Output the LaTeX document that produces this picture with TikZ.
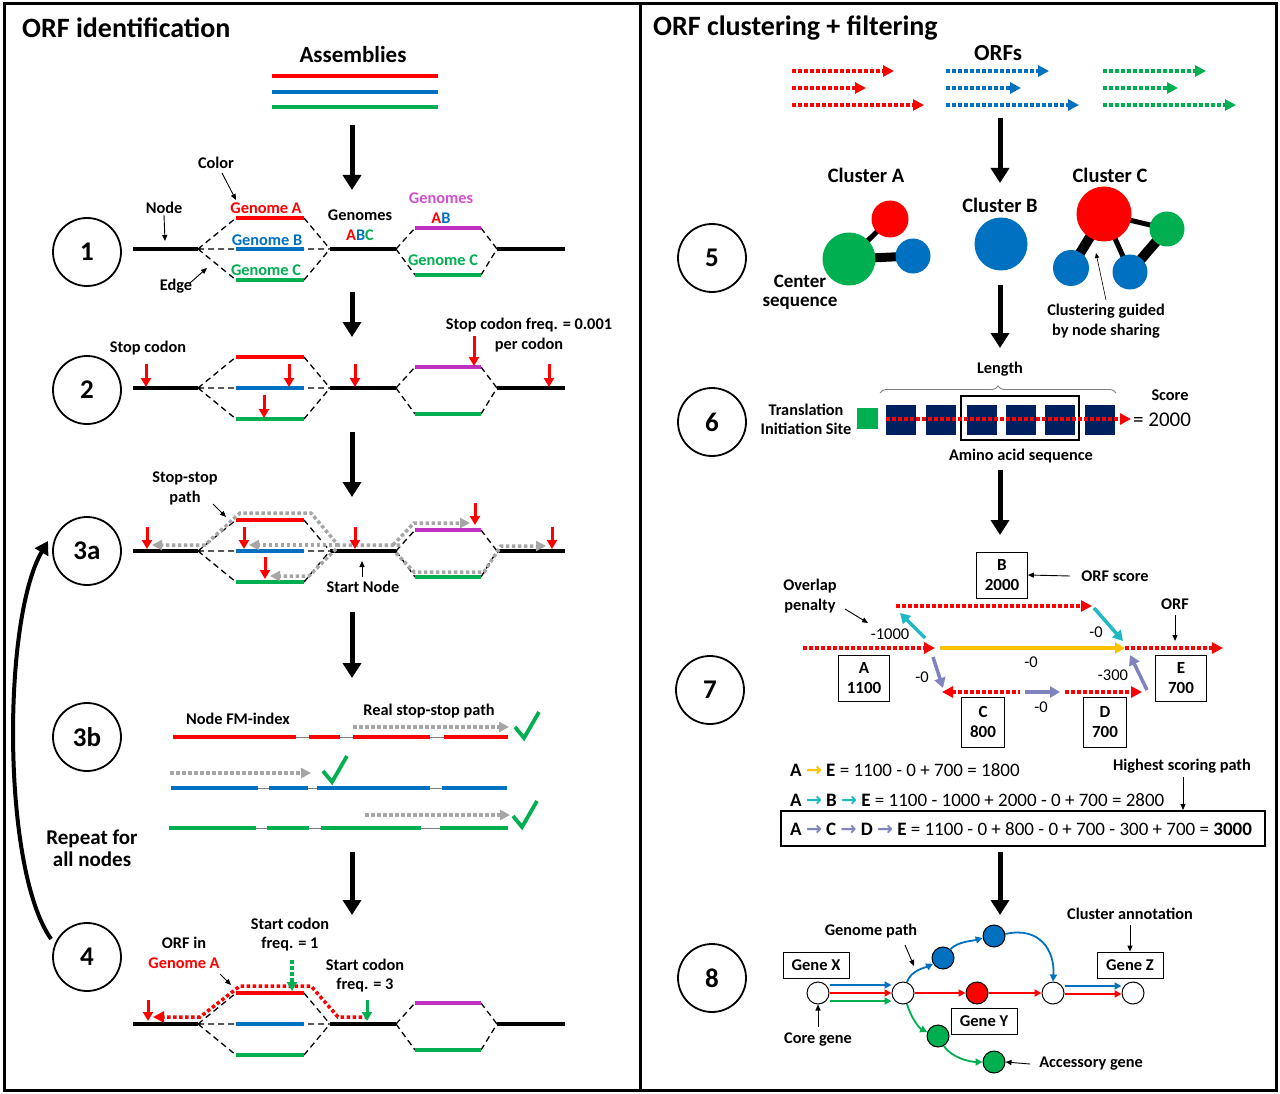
\documentclass[tikz,border=0pt]{standalone}
\usepackage{fontspec}
\setmainfont{Carlito}
\newfontfamily\dejavu{DejaVu Sans}
\usetikzlibrary{arrows.meta,calc,decorations.pathreplacing,backgrounds}
\definecolor{cred}{HTML}{FF0000}
\definecolor{cblue}{HTML}{0070C0}
\definecolor{cgreen}{HTML}{00B050}
\definecolor{cmag}{HTML}{C030C0}
\definecolor{cmagt}{HTML}{D050D0}
\definecolor{cgray}{HTML}{A6A6A6}
\definecolor{cteal}{HTML}{1FB9C4}
\definecolor{cpurp}{HTML}{7F84BE}
\definecolor{cyel}{HTML}{FFC000}
\definecolor{cnavy}{HTML}{002060}
\newcommand{\gfrag}[1]{%
 \begin{scope}[shift={(0,#1)}]
  \draw[dsh] (198,0) -- (236,-31) (198,0) -- (330,0) (198,0) -- (236,31)
     (304,-31) -- (330,0) (304,31) -- (330,0)
     (396,0) -- (415,-21) (396,0) -- (415,26) (481,-21) -- (497,0) (481,26) -- (497,0);
  \draw[seg] (133,0) -- (198,0) (330,0) -- (396,0) (497,0) -- (565,0);
  \draw[seg,cred] (236,-31) -- (304,-31);
  \draw[seg,cblue] (236,0) -- (304,0);
  \draw[seg,cgreen] (236,31) -- (304,31) (415,26) -- (481,26);
  \draw[seg,cmag] (415,-21) -- (481,-21);
 \end{scope}}
\newcommand{\redarr}[3]{\draw[rarr] (#1,#2) -- (#1,#3);}
\newcommand{\parr}[1]{\textcolor{#1}{\dejavu\bfseries →}}
\newcommand{\chk}[2]{\draw[cgreen, line width=3.8pt] (#1-12,#2) -- (#1-3,#2+11) -- (#1+12,#2-15);}
\begin{document}
\begin{tikzpicture}[x=1pt,y=-1pt,
  seg/.style={line width=3.5pt},
  dsh/.style={line width=1.3pt, dash pattern=on 6pt off 4pt},
  rarr/.style={cred, line width=3pt, -{Triangle[width=10pt,length=9pt]}},
  bigarr/.style={line width=5pt, -{Triangle[width=18pt,length=15pt]}},
  stepc/.style={circle, draw, line width=1.8pt, minimum size=68pt, font=\bfseries\fontsize{27}{29}\selectfont},
  lbl/.style={font=\bfseries\fontsize{16.3}{18}\selectfont, align=center, inner sep=1pt},
  num/.style={font=\fontsize{16.5}{18}\selectfont, inner sep=1pt},
  ann/.style={line width=0.9pt, -{Triangle[width=5pt,length=6pt]}},
  dots/.style={line width=3.5pt, dash pattern=on 3.5pt off 2.5pt},
  gdots/.style={cgray, line width=3.5pt, dash pattern=on 3.5pt off 2.5pt, -{Triangle[width=10pt,length=10pt]}},
  dtip/.style={-{Triangle[width=11pt,length=11pt]}},
  conn/.style={line width=3.5pt, -{Triangle[width=11pt,length=10pt]}},
  box/.style={draw, line width=0.8pt, font=\bfseries\fontsize{17}{20}\selectfont, align=center, minimum width=51pt, minimum height=46pt, inner sep=1pt},
  gbox/.style={draw, line width=0.8pt, font=\bfseries\fontsize{16.5}{18}\selectfont, minimum width=66pt, minimum height=26pt, inner sep=1pt},
  wc/.style={circle, draw, line width=1pt, fill=white, minimum size=22pt, inner sep=0pt},
  cc/.style={circle, inner sep=0pt},
  clab/.style={font=\bfseries\fontsize{20.5}{22}\selectfont},
  g8/.style={line width=1.8pt, -{Triangle[width=7pt,length=7pt]}}
]
\begin{scope}[on background layer]
\path[use as bounding box, fill=white] (0,0) rectangle (1280,1094);
\end{scope}
\draw[line width=3pt] (4,4) rectangle (1276,1090);
\draw[line width=3pt] (640,4) -- (640,1090);

% ================= LEFT PANEL =================
\node[anchor=west, font=\bfseries\fontsize{28}{30}\selectfont, inner sep=0] (t1) at (22,28) {ORF identification};
\node[font=\bfseries\fontsize{23}{25}\selectfont] (asm) at (353,55) {Assemblies};
\draw[seg,cred] (272,76) -- (438,76);
\draw[seg,cblue] (272,92) -- (438,92);
\draw[seg,cgreen] (272,107) -- (438,107);
\coordinate (a0s) at (352,125); \coordinate (a0e) at (352,190);
\draw[bigarr] (a0s) -- (a0e);

% ---- step 1
\node[stepc] (s1) at (87,252) {1};
\gfrag{249}
\node[lbl] (lcol) at (216,163) {Color};
\coordinate (lcolt) at (236,200);
\draw[ann] (222,173) -- (lcolt);
\node[lbl] (lnode) at (164,208) {Node};
\coordinate (lnodet) at (165,241);
\draw[ann] (lnode.south) -- (lnodet);
\node[lbl] (ledge) at (176,286) {Edge};
\coordinate (ledget) at (207,268);
\draw[ann] (190,283) -- (ledget);
\node[lbl, text=cred] (gA) at (266,208) {Genome A};
\node[lbl, text=cblue] (gB) at (267,240) {Genome B};
\node[lbl, text=cgreen] (gC) at (266,270) {Genome C};
\node[lbl] (gabc1) at (360,215) {Genomes};
\node[lbl] (gabc2) at (360,235) {\textcolor{cred}{A}\textcolor{cblue}{B}\textcolor{cgreen}{C}};
\node[lbl, text=cmagt] (gab1) at (441,198) {Genomes};
\node[lbl] (gab2) at (441,218) {\textcolor{cred}{A}\textcolor{cblue}{B}};
\node[lbl, text=cgreen] (gC2) at (443,260) {Genome C};
\draw[bigarr] (352,292) -- (352,337);

% ---- step 2
\node[stepc] (s2) at (87,390) {2};
\gfrag{388}
\node[lbl] (lstop) at (148,348) {Stop codon};
\node[lbl] (lfreq) at (529,325) {Stop codon freq. = 0.001};
\node[lbl] (lper) at (529,345) {per codon};
\redarr{146}{364}{387}
\redarr{289}{364}{387}
\redarr{264}{395}{418}
\redarr{355}{364}{387}
\redarr{474}{336}{366}
\redarr{549}{364}{387}
\draw[bigarr] (352,432) -- (352,497);

% ---- step 3a
\node[stepc] (s3a) at (87,551) {3a};
\gfrag{551}
\begin{scope}[shift={(0,551)}]
 \draw[gdots] (400,-6) -- (338,-6) -- (311,-38) -- (240,-38) -- (205,-6) -- (152,-6);
 \draw[gdots] (338,-6) -- (249,-6);
 \draw[gdots] (336,-2) -- (309,25) -- (270,25);
 \draw[gdots] (393,-6) -- (414,-28) -- (470,-28);
 \draw[gdots] (396,2) -- (414,21) -- (484,21) -- (501,-5) -- (546,-5);
\end{scope}
\redarr{147}{527}{549}
\redarr{244}{527}{549}
\redarr{265}{557}{579}
\redarr{355}{527}{549}
\redarr{475}{503}{525}
\redarr{552}{527}{549}
\node[lbl] (lss1) at (185,478) {Stop-stop};
\node[lbl] (lss2) at (185,498) {path};
\draw[ann] (213,504) -- (226,517);
\node[lbl] (lstart) at (363,587) {Start Node};
\draw[ann] (362,577) -- (362,561);
\draw[bigarr] (352,612) -- (352,678);

% ---- step 3b
\node[stepc] (s3b) at (87,737) {3b};
\node[lbl] (lfm) at (238,719) {Node FM-index};
\node[lbl] (lreal) at (429,711) {Real stop-stop path};
\draw[line width=1pt, gray] (173,737) -- (508,737) (171,788) -- (507,788) (169,828) -- (508,828);
\draw[seg,cred] (173,737) -- (296,737) (309,737) -- (340,737) (353,737) -- (430,737) (444,737) -- (508,737);
\draw[seg,cblue] (171,788) -- (258,788) (269,788) -- (308,788) (317,788) -- (430,788) (442,788) -- (507,788);
\draw[seg,cgreen] (169,828) -- (256,828) (267,828) -- (309,828) (321,828) -- (421,828) (440,828) -- (508,828);
\draw[gdots] (353,727) -- (509,727);
\draw[gdots] (170,773) -- (311,773);
\draw[gdots] (365,815) -- (510,815);
\chk{527}{727}
\chk{335}{771}
\chk{525}{816}
\node[font=\bfseries\fontsize{21}{23}\selectfont, align=center] (rep) at (92,848) {Repeat for\\[-1pt]all nodes};
\draw[bigarr] (352,852) -- (352,915);

% ---- step 4
\node[stepc] (s4) at (87,957) {4};
\gfrag{1024}
\begin{scope}[shift={(0,1024)}]
 \draw[dots, cred, dtip] (368,-7) -- (338,-7) -- (311,-38) -- (240,-38) -- (200,-7) -- (153,-7);
 \draw[dots, cgreen, -{Triangle[width=10pt,length=9pt]}] (292,-64) -- (292,-33);
 \draw[cgreen, line width=3pt, -{Triangle[width=10pt,length=9pt]}] (367,-24) -- (367,-3);
\end{scope}
\redarr{148}{1000}{1021}
\node[lbl] (lsc1) at (290,924) {Start codon};
\node[lbl] (lsc1b) at (290,944) {freq. = 1};
\node[lbl] (lsc3) at (365,965) {Start codon};
\node[lbl] (lsc3b) at (365,985) {freq. = 3};
\node[lbl] (lorf) at (184,943) {ORF in};
\node[lbl, text=cred] (lorfA) at (184,963) {Genome A};
\draw[ann] (220,974) -- (231,985);
\draw[line width=4pt, -{Triangle[width=15pt,length=13pt]}] (s4.west) ++(-1,-18) .. controls (2,870) and (2,620) .. (48,541);

% ================= RIGHT PANEL =================
\node[anchor=west, font=\bfseries\fontsize{28}{30}\selectfont, inner sep=0] (t2) at (653,28) {ORF clustering + filtering};
\node[font=\bfseries\fontsize{23}{25}\selectfont] (orfs) at (998,53) {ORFs};
\draw[dots,cred,dtip] (792,71) -- (894,71);
\draw[dots,cred,dtip] (792,88) -- (866,88);
\draw[dots,cred,dtip] (792,105) -- (924,105);
\draw[dots,cblue,dtip] (946,71) -- (1049,71);
\draw[dots,cblue,dtip] (946,88) -- (1021,88);
\draw[dots,cblue,dtip] (946,105) -- (1079,105);
\draw[dots,cgreen,dtip] (1103,71) -- (1206,71);
\draw[dots,cgreen,dtip] (1103,88) -- (1178,88);
\draw[dots,cgreen,dtip] (1103,105) -- (1236,105);
\draw[bigarr] (1000,118) -- (1000,183);

% ---- step 5
\node[stepc] (s5) at (712,258) {5};
\node[clab] (clA) at (866,175) {Cluster A};
\node[clab] (clB) at (1000,205) {Cluster B};
\node[clab] (clC) at (1110,175) {Cluster C};
\node[cc, fill=cred, minimum size=37pt] (ar) at (890,219) {};
\node[cc, fill=cgreen, minimum size=53pt] (ag) at (849,259) {};
\node[cc, fill=cblue, minimum size=35pt] (ab) at (913,256) {};
\node[cc, fill=cblue, minimum size=53pt] (bb) at (1001,244) {};
\node[cc, fill=cred, minimum size=55pt] (cr) at (1104,214) {};
\node[cc, fill=cgreen, minimum size=35pt] (cg) at (1167,229) {};
\node[cc, fill=cblue, minimum size=36pt] (cb1) at (1071,268) {};
\node[cc, fill=cblue, minimum size=35pt] (cb2) at (1130,272) {};
\begin{scope}[on background layer]
 \draw[line width=5pt] (ag.center) -- (ar.center);
 \draw[line width=9pt] (ag.center) -- (ab.center);
 \draw[line width=10pt] (cr.center) -- (cb1.center);
 \draw[line width=5pt] (cr.center) -- (cb2.center);
 \draw[line width=5pt] (cr.center) -- (cg.center);
 \draw[line width=10pt] (cg.center) -- (cb2.center);
\end{scope}
\node[lbl, font=\bfseries\fontsize{19}{21}\selectfont] (lcen1) at (800,281) {Center};
\node[lbl, font=\bfseries\fontsize{19}{21}\selectfont] (lcen2) at (800,303) {sequence};
\node[lbl] (lcg1) at (1106,311) {Clustering guided};
\node[lbl] (lcg2) at (1106,331) {by node sharing};
\draw[line width=0.6pt, -{Triangle[width=4pt,length=5pt]}] (1106,300) -- (1096,253);
\draw[bigarr] (1000,285) -- (1000,348);

% ---- step 6
\node[stepc] (s6) at (712,422) {6};
\node[lbl] (llen) at (1000,369) {Length};
\draw[gray, line width=0.9pt, decorate, decoration={brace, amplitude=7pt}] (880,393) -- (1116,393);
\node[lbl] (ltis1) at (806,410) {Translation};
\node[lbl] (ltis2) at (806,429) {Initiation Site};
\node[fill=cgreen, minimum size=21pt, inner sep=0] (tis) at (867,418) {};
\foreach \xx in {901,941,982,1021,1060,1100} {\fill[cnavy] (\xx-15,405) rectangle (\xx+15,435);}
\draw[line width=1.8pt] (961,396) rectangle (1079,440);
\draw[dots,cred,dtip] (886,419) -- (1131,419);
\node[font=\fontsize{21}{23}\selectfont, anchor=west, inner sep=0] (sc) at (1133,420) {= 2000};
\node[lbl] (lscore) at (1170,395) {Score};
\node[lbl] (laa) at (1021,456) {Amino acid sequence};
\draw[bigarr] (1000,470) -- (1000,535);

% ---- step 7
\node[stepc] (s7) at (710,690) {7};
\node[box] (bB) at (1002,575) {B\\2000};
\node[box] (bA) at (864,678) {A\\1100};
\node[box, minimum width=43pt, minimum height=50pt] (bC) at (983,722) {C\\800};
\node[box, minimum width=43pt, minimum height=50pt] (bD) at (1105,722) {D\\700};
\node[box] (bE) at (1181,678) {E\\700};
\node[lbl] (lorfs) at (1115,576) {ORF score};
\draw[ann] (1070,576) -- (bB.east);
\node[lbl] (lovl1) at (810,586) {Overlap};
\node[lbl] (lovl2) at (810,606) {penalty};
\draw[ann] (845,609) -- (868,623);
\node[lbl] (lorf7) at (1175,604) {ORF};
\draw[ann] (1175,615) -- (1175,641);
\coordinate (oA1) at (803,648); \coordinate (oA2) at (935,648);
\coordinate (oB1) at (896,606); \coordinate (oB2) at (1092,606);
\coordinate (oC1) at (942,692); \coordinate (oC2) at (1020,692);
\coordinate (oD1) at (1065,692); \coordinate (oD2) at (1142,692);
\coordinate (oE1) at (1125,648); \coordinate (oE2) at (1223,648);
\draw[dots,cred,dtip] (oA1) -- (oA2);
\draw[dots,cred,dtip] (oB1) -- (oB2);
\draw[dots,cred,{Triangle[width=11pt,length=11pt]}-] (oC1) -- (oC2);
\draw[dots,cred,dtip] (oD1) -- (oD2);
\draw[dots,cred,dtip] (oE1) -- (oE2);
\draw[conn,cyel] (940,648) -- (oE1);
\draw[conn,cteal] (925,638) -- (900,613);
\draw[conn,cteal] (1094,608) -- (1123,641);
\draw[conn,cpurp] (933,657) -- (943,688);
\draw[conn,cpurp] (1025,692) -- (1060,692);
\draw[conn,cpurp] (1147,690) -- (1130,655);
\node[num] at (890,634) {-1000};
\node[num] at (1096,632) {-0};
\node[num] at (1031,662) {-0};
\node[num] at (922,677) {-0};
\node[num] at (1113,675) {-300};
\node[num] at (1041,707) {-0};

% equations
\begin{scope}[every node/.style={anchor=west, font=\fontsize{19}{21}\selectfont, inner sep=0}]
\node (eq1) at (790,770) {\textbf{A} \parr{cyel} \textbf{E} = 1100 - 0 + 700 = 1800};
\node (eq2) at (790,800) {\textbf{A} \parr{cteal} \textbf{B} \parr{cteal} \textbf{E} = 1100 - 1000 + 2000 - 0 + 700 = 2800};
\node (eq3) at (790,829) {\textbf{A} \parr{cpurp} \textbf{C} \parr{cpurp} \textbf{D} \parr{cpurp} \textbf{E} = 1100 - 0 + 800 - 0 + 700 - 300 + 700 = \textbf{3000}};
\end{scope}
\draw[line width=1.3pt] (781,811) rectangle (1265,846);
\node[lbl] (lhigh) at (1182,766) {Highest scoring path};
\draw[ann] (1183,777) -- (1183,810);
\draw[bigarr] (1000,852) -- (1000,915);

% ---- step 8
\node[stepc] (s8) at (712,978) {8};
\node[wc] (nX) at (818,993) {};
\node[wc] (n2) at (903,993) {};
\node[wc] (n3) at (1053,993) {};
\node[wc] (nZ) at (1133,993) {};
\node[wc, fill=cred] (nR) at (977,993) {};
\node[wc, fill=cblue] (nB1) at (943,958) {};
\node[wc, fill=cblue] (nB2) at (994,936) {};
\node[wc, fill=cgreen] (nG1) at (938,1036) {};
\node[wc, fill=cgreen] (nG2) at (994,1062) {};
\node[gbox] (gx) at (816,965) {Gene X};
\node[gbox] (gz) at (1130,965) {Gene Z};
\node[gbox] (gy) at (984,1021) {Gene Y};
\draw[g8,cblue] ([yshift=8pt]nX.east) -- ([yshift=8pt]n2.west);
\draw[g8,cred] (nX.east) -- (n2.west);
\draw[g8,cgreen] ([yshift=-8pt]nX.east) -- ([yshift=-8pt]n2.west);
\draw[g8,cred] (n2.east) -- (nR.west);
\draw[g8,cred] (nR.east) -- (n3.west);
\draw[g8,cblue] ([yshift=7pt]n3.east) -- ([yshift=7pt]nZ.west);
\draw[g8,cred] ([yshift=-1pt]n3.east) -- ([yshift=-1pt]nZ.west);
\draw[g8,cblue] (n2.70) .. controls +(4,-12) and +(-8,4) .. (nB1.210);
\draw[g8,cblue] (nB1.50) .. controls +(8,-8) and +(-10,3) .. (nB2.190);
\draw[g8,cblue] (nB2.10) .. controls +(35,-8) and +(2,-30) .. (n3.90);
\draw[g8,cgreen] (n2.290) .. controls +(4,14) and +(-8,-4) .. (nG1.160);
\draw[g8,cgreen] (nG1.300) .. controls +(8,12) and +(-12,0) .. (nG2.180);
\node[lbl] (lgp) at (871,931) {Genome path};
\draw[ann] (905,945) -- (914,966);
\node[lbl] (lca) at (1130,914) {Cluster annotation};
\draw[ann] (1130,925) -- (gz.north);
\node[lbl] (lcore) at (818,1040) {Core gene};
\draw[ann] (818,1027) -- (nX.south);
\node[lbl] (lacc) at (1091,1064) {Accessory gene};
\draw[ann] (1030,1064) -- (nG2.east);
\end{tikzpicture}
\end{document}
